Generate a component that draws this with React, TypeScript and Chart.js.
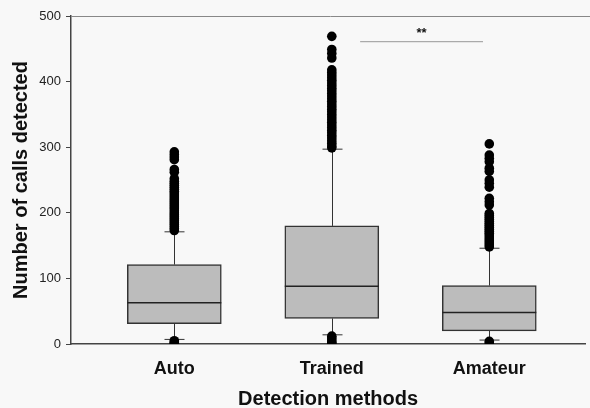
import { useEffect, useRef } from 'react';
import { Chart, registerables } from 'chart.js';

Chart.register(...registerables);

const categories = ['Auto', 'Trained', 'Amateur'];
const q1 = [31, 39, 20];
const medians = [63, 88, 48];
const q3 = [121, 180, 89];
const whiskerLow = [7, 14, 6];
const whiskerHigh = [171, 297, 146];

const autoOutliers = [293, 289, 285, 281, 266, 262, 252, 248, 245, 242, 239, 236, 233, 230, 227, 224, 221, 218, 215, 212, 209, 206, 203, 200, 197, 194, 191, 188, 185, 182, 179, 176, 173, 5, 3, 1, 0];
const trainedOutliers = [469, 449, 443, 436, 418, 414, 410, 406, 402, 398, 394, 390, 386, 382, 378, 374, 370, 366, 362, 358, 354, 350, 346, 342, 338, 334, 330, 326, 322, 318, 314, 310, 306, 302, 299, 12, 9, 6, 3, 1];
const amateurOutliers = [305, 288, 283, 278, 268, 263, 250, 245, 239, 222, 217, 212, 199, 196, 193, 190, 187, 184, 181, 178, 175, 172, 169, 166, 163, 160, 157, 154, 151, 148, 4, 1];
const outlierGroups = [autoOutliers, trainedOutliers, amateurOutliers];

const yTicks = [0, 100, 200, 300, 400, 500];
const sigFrom = 2.18;
const sigTo = 2.96;
const sigY = 461;
const sigLabel = '**';
const sigLabelY = 473;

const FONT = '"Liberation Sans", Arial, sans-serif';

const extrasPlugin = {
  id: 'boxExtras',
  beforeDraw(chart: any) {
    const ctx = chart.ctx;
    ctx.save();
    ctx.fillStyle = '#f8f8f8';
    ctx.fillRect(0, 0, chart.width, chart.height);
    ctx.restore();
  },
  beforeDatasetsDraw(chart: any) {
    const ctx = chart.ctx;
    const xs = chart.scales.x;
    const ys = chart.scales.y;
    const area = chart.chartArea;
    ctx.save();
    ctx.strokeStyle = '#888';
    ctx.lineWidth = 1;
    ctx.beginPath();
    ctx.moveTo(area.left, area.top + 0.5);
    ctx.lineTo(chart.width, area.top + 0.5);
    ctx.stroke();
    ctx.strokeStyle = '#333';
    ctx.lineWidth = 1;
    categories.forEach((_, i) => {
      const cx = Math.round(xs.getPixelForValue(i + 1)) + 0.5;
      const yHi = ys.getPixelForValue(whiskerHigh[i]);
      const yQ3 = ys.getPixelForValue(q3[i]);
      const yLo = ys.getPixelForValue(whiskerLow[i]);
      const yQ1 = ys.getPixelForValue(q1[i]);
      ctx.beginPath();
      ctx.moveTo(cx, yQ3);
      ctx.lineTo(cx, yHi);
      ctx.moveTo(cx, yQ1);
      ctx.lineTo(cx, yLo);
      ctx.moveTo(cx - 10, yHi);
      ctx.lineTo(cx + 10, yHi);
      ctx.moveTo(cx - 10, yLo);
      ctx.lineTo(cx + 10, yLo);
      ctx.stroke();
    });
    ctx.restore();
  },
  afterDatasetDraw(chart: any, args: any) {
    if (args.index !== 0) return;
    const ctx = chart.ctx;
    const ys = chart.scales.y;
    const meta = chart.getDatasetMeta(0);
    ctx.save();
    ctx.strokeStyle = '#222';
    ctx.lineWidth = 1.5;
    meta.data.forEach((bar: any, i: number) => {
      const w = bar.width;
      const y = ys.getPixelForValue(medians[i]);
      ctx.beginPath();
      ctx.moveTo(bar.x - w / 2, y);
      ctx.lineTo(bar.x + w / 2, y);
      ctx.stroke();
    });
    ctx.restore();
  },
  afterDraw(chart: any) {
    const ctx = chart.ctx;
    const xs = chart.scales.x;
    const ys = chart.scales.y;
    ctx.save();
    ctx.fillStyle = '#111';
    ctx.font = `bold 13px ${FONT}`;
    ctx.textAlign = 'center';
    ctx.textBaseline = 'middle';
    ctx.fillText(sigLabel, xs.getPixelForValue((sigFrom + sigTo) / 2), ys.getPixelForValue(sigLabelY));
    ctx.restore();
  },
};

export default function App() {
  const ref = useRef<HTMLCanvasElement | null>(null);
  useEffect(() => {
    document.body.style.margin = '0';
    const canvas = ref.current;
    if (!canvas) return;
    const chart = new Chart(canvas, {
      type: 'bar',
      data: {
        datasets: [
          {
            type: 'bar',
            data: categories.map((_, i) => ({ x: i + 1, y: [q1[i], q3[i]] })) as any,
            backgroundColor: '#bcbcbc',
            borderColor: '#333',
            borderWidth: 1.5,
            borderSkipped: false,
            barThickness: 94,
            order: 3,
          } as any,
          {
            type: 'line',
            data: [
              { x: sigFrom, y: sigY },
              { x: sigTo, y: sigY },
            ],
            borderColor: '#aaaaaa',
            borderWidth: 1.2,
            pointRadius: 0,
            order: 2,
          } as any,
          {
            type: 'scatter',
            data: outlierGroups.flatMap((g, i) => g.map((v) => ({ x: i + 1, y: v }))),
            backgroundColor: '#000',
            borderColor: '#000',
            borderWidth: 0,
            pointRadius: 4.8,
            order: 1,
          } as any,
        ],
      },
      options: {
        animation: false,
        responsive: false,
        maintainAspectRatio: false,
        layout: { padding: { top: 16, left: 0, right: 0, bottom: 0 } },
        plugins: { legend: { display: false }, tooltip: { enabled: false } },
        scales: {
          x: {
            type: 'linear',
            min: 0.344,
            max: 3.609,
            offset: false,
            bounds: 'ticks',
            afterBuildTicks: (s: any) => {
              s.ticks = categories.map((_, i) => ({ value: i + 1 }));
            },
            afterFit: (s: any) => {
              s.height = 64;
            },
            ticks: {
              autoSkip: false,
              maxRotation: 0,
              padding: 14,
              color: '#111',
              font: { family: FONT, size: 18, weight: 'bold' },
              callback: (v: any) => categories[Number(v) - 1] ?? '',
            },
            grid: { display: false, drawTicks: false, offset: false },
            border: { display: true, color: '#444', width: 1.5 },
            title: {
              display: true,
              text: 'Detection methods',
              color: '#111',
              font: { family: FONT, size: 20, weight: 'bold' },
              padding: { top: 0, bottom: -3 },
            },
          },
          y: {
            type: 'linear',
            min: 0,
            max: 500,
            afterBuildTicks: (s: any) => {
              s.ticks = yTicks.map((v) => ({ value: v }));
            },
            afterFit: (s: any) => {
              s.width = 71;
            },
            ticks: {
              padding: 5,
              color: '#222',
              font: { family: FONT, size: 13 },
            },
            grid: { drawOnChartArea: false, drawTicks: true, tickLength: 5, color: '#444' },
            border: { display: true, color: '#444', width: 1.5 },
            title: {
              display: true,
              text: 'Number of calls detected',
              color: '#111',
              font: { family: FONT, size: 20, weight: 'bold' },
              padding: { top: 9, bottom: 0 },
            },
          },
        },
      } as any,
      plugins: [extrasPlugin],
    });
    return () => chart.destroy();
  }, []);
  return (
    <div style={{ position: 'absolute', left: 0, top: 0, width: 590, height: 408 }}>
      <canvas ref={ref} width={590} height={408} style={{ display: 'block', width: 590, height: 408 }} />
    </div>
  );
}
